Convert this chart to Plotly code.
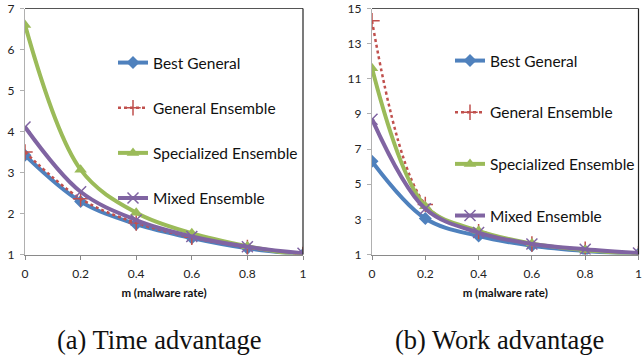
import plotly.graph_objects as go

m = [0, 0.2, 0.4, 0.6, 0.8, 1.0]
series_names = ["Best General", "General Ensemble", "Specialized Ensemble", "Mixed Ensemble"]

# (a) Time advantage
time_best = [3.42, 2.29, 1.74, 1.40, 1.15, 1.00]
time_general = [3.50, 2.36, 1.77, 1.42, 1.17, 1.00]
time_special = [6.60, 3.07, 2.02, 1.52, 1.20, 0.97]
time_mixed = [4.11, 2.53, 1.84, 1.44, 1.19, 1.03]

# (b) Work advantage
work_best = [6.30, 3.05, 2.05, 1.50, 1.20, 1.03]
work_general = [14.30, 3.85, 2.30, 1.60, 1.30, 1.05]
work_special = [11.60, 3.75, 2.35, 1.62, 1.25, 1.00]
work_mixed = [8.70, 3.60, 2.25, 1.60, 1.30, 1.08]

blue = "#4F81BD"
red = "#C0504D"
green = "#9BBB59"
purple = "#8064A2"

styles = [
    dict(line=dict(color=blue, width=4, shape="spline"),
         marker=dict(symbol="diamond", size=10, color=blue)),
    dict(line=dict(color=red, width=2.5, dash="dot", shape="spline"),
         marker=dict(symbol="cross-thin", size=11, color=red, line=dict(color=red, width=1.5))),
    dict(line=dict(color=green, width=4, shape="spline"),
         marker=dict(symbol="triangle-up", size=11, color=green)),
    dict(line=dict(color=purple, width=4, shape="spline"),
         marker=dict(symbol="x-thin", size=11, color=purple, line=dict(color=purple, width=1.5))),
]

fig = go.Figure()
for i, (name, ys) in enumerate(zip(series_names, [time_best, time_general, time_special, time_mixed])):
    fig.add_trace(go.Scatter(x=m, y=ys, name=name, mode="lines+markers", xaxis="x", yaxis="y",
                             legend="legend", legendgroup="a" + str(i), **styles[i]))
for i, (name, ys) in enumerate(zip(series_names, [work_best, work_general, work_special, work_mixed])):
    fig.add_trace(go.Scatter(x=m, y=ys, name=name, mode="lines+markers", xaxis="x2", yaxis="y2",
                             legend="legend2", legendgroup="b" + str(i), **styles[i]))

W, H = 643, 356
tickfont = dict(family="Lato", size=12, color="#222")
titlefont = dict(family="Lato", size=11.5, color="#111", weight="bold")

def xax(domain):
    return dict(domain=domain, range=[0, 1], tickvals=m, ticktext=["0", "0.2", "0.4", "0.6", "0.8", "1"],
                showgrid=False, zeroline=False, showline=True, linecolor="#8a8a8a", linewidth=1.2,
                ticks="outside", ticklen=4, tickcolor="#8a8a8a", tickfont=tickfont, automargin=False,
                ticklabelstandoff=4, ticklabeloverflow="allow",
                title=dict(text="m (malware rate)", font=titlefont, standoff=8))

def yax(domain, rng, dt, anchor):
    return dict(domain=domain, range=rng, dtick=dt, tick0=1, showgrid=False, zeroline=False,
                showline=True, linecolor="#b0b0b0", linewidth=1.2, ticks="outside", ticklen=4,
                tickcolor="#b0b0b0", tickfont=tickfont, anchor=anchor, automargin=False,
                ticklabelstandoff=3)

ydom = [(H - 254.5) / H, (H - 8.5) / H]
legfont = dict(family="Lato", size=15.5, color="#111")
fig.update_layout(
    width=W, height=H, margin=dict(l=0, r=0, t=0, b=0, autoexpand=False),
    paper_bgcolor="white", plot_bgcolor="white",
    xaxis=xax([25 / W, 303 / W]),
    yaxis=yax(ydom, [1, 7], 1, "x"),
    xaxis2=dict(xax([372 / W, 638.5 / W]), anchor="y2"),
    yaxis2=yax(ydom, [1, 15], 2, "x2"),
    legend=dict(x=113 / W, y=(H - 46) / H, xanchor="left", yanchor="top", bgcolor="rgba(0,0,0,0)",
                font=legfont, tracegroupgap=22, itemwidth=30),
    legend2=dict(x=450 / W, y=(H - 44) / H, xanchor="left", yanchor="top", bgcolor="rgba(0,0,0,0)",
                 font=legfont, tracegroupgap=28.5, itemwidth=30),
    showlegend=True,
)

# plot-area borders (top and right)
for xr, yr in [("x domain", "y domain"), ("x2 domain", "y2 domain")]:
    fig.add_shape(type="line", xref=xr, yref=yr, x0=0, x1=1, y0=1, y1=1, line=dict(color="#555", width=1.2))
    fig.add_shape(type="line", xref=xr, yref=yr, x0=1, x1=1, y0=0, y1=1, line=dict(color="#222", width=1.2))

capfont = dict(family="Liberation Serif", size=26.5, color="#111")
fig.add_annotation(text="(a) Time advantage", xref="paper", yref="paper", x=159 / W, y=(H - 340) / H,
                   xanchor="center", yanchor="middle", showarrow=False, font=capfont)
fig.add_annotation(text="(b) Work advantage", xref="paper", yref="paper", x=499 / W, y=(H - 340) / H,
                   xanchor="center", yanchor="middle", showarrow=False, font=capfont)

fig.write_html("out.html")
